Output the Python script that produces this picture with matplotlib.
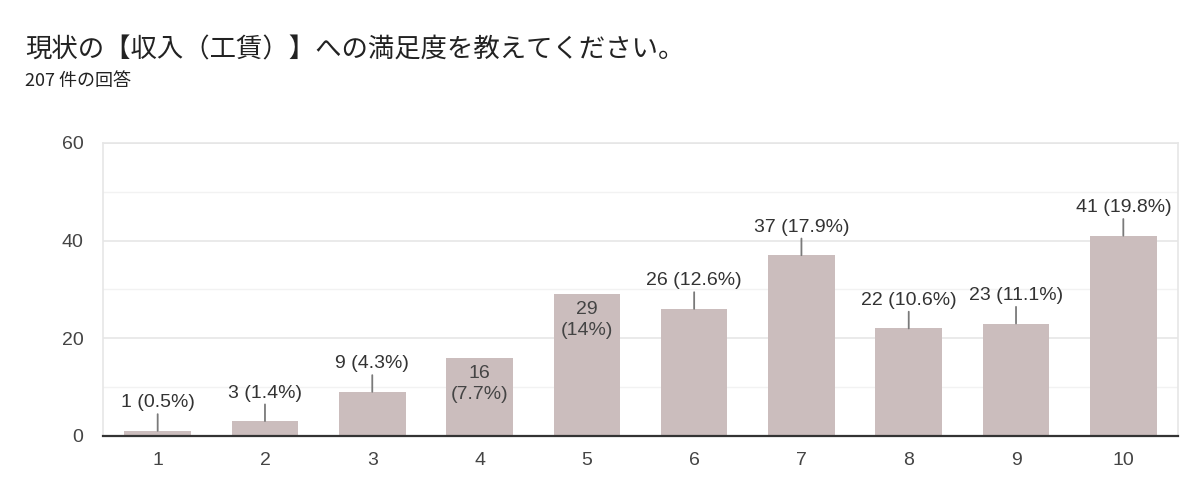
import matplotlib
matplotlib.use("Agg")
import matplotlib.pyplot as plt
from matplotlib.ticker import MultipleLocator

categories = ["1", "2", "3", "4", "5", "6", "7", "8", "9", "10"]
counts = [1, 3, 9, 16, 29, 26, 37, 22, 23, 41]
total = 207
title = "現状の【収入（工賃）】への満足度を教えてください。"
subtitle = f"{total} 件の回答"
yticks = [0, 20, 40, 60]

plt.rcParams['font.family'] = ['Liberation Sans', 'Noto Sans CJK JP', 'DejaVu Sans']

fig = plt.figure(figsize=(12, 4.97), dpi=100)
ax = fig.add_axes([0.0858, 0.1233, 0.8959, 0.589])

x = list(range(1, len(categories) + 1))
bar_color = '#cbbdbd'
ax.bar(x, counts, width=0.62, color=bar_color, zorder=3)

ax.set_xlim(0.49, 10.51)
ax.set_ylim(0, 60)
ax.set_yticks(yticks)
ax.yaxis.set_minor_locator(MultipleLocator(10))
ax.set_xticks(x)
ax.set_xticklabels(categories)

ax.grid(axis='y', which='major', color='#e6e6e6', lw=1.2, zorder=0)
ax.grid(axis='y', which='minor', color='#f2f2f2', lw=1.0, zorder=0)
ax.tick_params(axis='both', which='both', length=0, labelsize=14, labelcolor='#444444')
ax.tick_params(axis='y', pad=14)
ax.tick_params(axis='x', pad=12)

for s in ['left', 'right', 'top']:
    ax.spines[s].set_color('#e6e6e6')
    ax.spines[s].set_linewidth(1.2)
ax.spines['bottom'].set_color('#333333')
ax.spines['bottom'].set_linewidth(1.6)
ax.spines['bottom'].set_zorder(5)

inside = {4, 5}
for xi, v in zip(x, counts):
    pct = f"{round(v / total * 100, 1):g}%"
    if xi in inside:
        ax.annotate(f"{v}\n({pct})", xy=(xi, v), xytext=(0, -5),
                    textcoords='offset points', ha='center', va='top',
                    fontsize=14, color='#444444', linespacing=1.3, zorder=6)
    else:
        ax.annotate(f"{v} ({pct})", xy=(xi, v), xytext=(0, 14),
                    textcoords='offset points', ha='center', va='bottom',
                    fontsize=14, color='#333333', zorder=6,
                    arrowprops=dict(arrowstyle='-', color='#7a7a7a', lw=1.3,
                                    shrinkA=0, shrinkB=0))

fig.text(0.021, 0.900, title, fontsize=19, color='#222222', va='center', ha='left',
         family=['Noto Sans CJK JP', 'DejaVu Sans'])
fig.text(0.021, 0.838, subtitle, fontsize=13, color='#222222', va='center', ha='left',
         family=['Noto Sans CJK JP', 'DejaVu Sans'])

fig.savefig("out.png", dpi=100, facecolor='white')
